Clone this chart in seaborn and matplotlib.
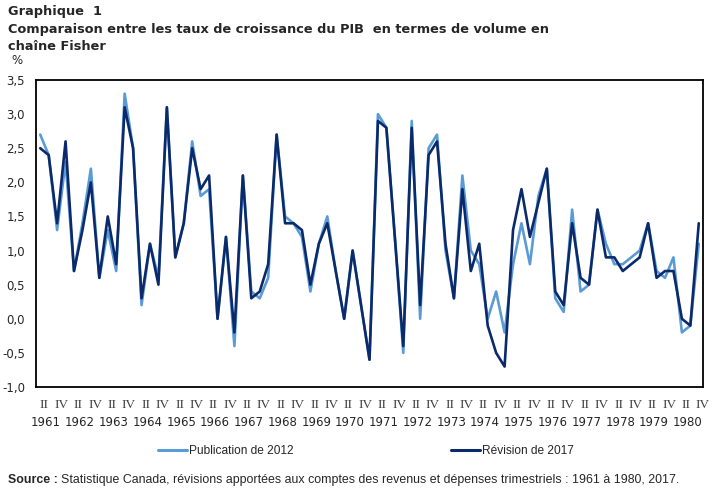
import numpy as np
import pandas as pd
import matplotlib
matplotlib.use("Agg")
from matplotlib import pyplot as plt
import seaborn as sns

# quarterly growth, 1961 Q2 to 1980 Q4 (%)
years = list(range(1961, 1981))
quarters = [(y, q) for y in years for q in ["I", "II", "III", "IV"]][1:]

pub_2012 = [2.7, 2.4, 1.3, 2.3,
            0.7, 1.4, 2.2, 0.6,
            1.3, 0.7, 3.3, 2.5,
            0.2, 1.1, 0.6, 3.1,
            0.9, 1.4, 2.6, 1.8,
            1.9, 0.0, 1.2, -0.4,
            2.1, 0.4, 0.3, 0.6,
            2.7, 1.5, 1.4, 1.2,
            0.4, 1.1, 1.5, 0.7,
            0.0, 1.0, 0.2, -0.6,
            3.0, 2.8, 1.2, -0.5,
            2.9, 0.0, 2.5, 2.7,
            1.0, 0.3, 2.1, 1.0,
            0.8, 0.0, 0.4, -0.2,
            0.8, 1.4, 0.8, 1.8,
            2.2, 0.3, 0.1, 1.6,
            0.4, 0.5, 1.6, 1.1,
            0.8, 0.8, 0.9, 1.0,
            1.4, 0.7, 0.6, 0.9,
            -0.2, -0.1, 1.1]

rev_2017 = [2.5, 2.4, 1.4, 2.6,
            0.7, 1.3, 2.0, 0.6,
            1.5, 0.8, 3.1, 2.5,
            0.3, 1.1, 0.5, 3.1,
            0.9, 1.4, 2.5, 1.9,
            2.1, 0.0, 1.2, -0.2,
            2.1, 0.3, 0.4, 0.8,
            2.7, 1.4, 1.4, 1.3,
            0.5, 1.1, 1.4, 0.7,
            0.0, 1.0, 0.2, -0.6,
            2.9, 2.8, 1.2, -0.4,
            2.8, 0.2, 2.4, 2.6,
            1.1, 0.3, 1.9, 0.7,
            1.1, -0.1, -0.5, -0.7,
            1.3, 1.9, 1.2, 1.7,
            2.2, 0.4, 0.2, 1.4,
            0.6, 0.5, 1.6, 0.9,
            0.9, 0.7, 0.8, 0.9,
            1.4, 0.6, 0.7, 0.7,
            0.0, -0.1, 1.4]

series_names = ["Publication de 2012", "Révision de 2017"]
colors = ["#5B9BD5", "#0B2A6B"]

n = len(quarters)
df = pd.DataFrame({
    "idx": list(range(n)) * 2,
    "value": pub_2012 + rev_2017,
    "serie": [series_names[0]] * n + [series_names[1]] * n,
})

sns.set_style("white")
plt.rcParams["font.family"] = ["DejaVu Sans"]

fig = plt.figure(figsize=(7.19, 4.92), dpi=100)
ax = fig.add_axes([36 / 719, 1 - 387 / 492, (703 - 36) / 719, (387 - 80) / 492])

sns.lineplot(data=df, x="idx", y="value", hue="serie", palette=colors,
             linewidth=1.9, ax=ax, legend=False)

ax.set_xlim(-0.5, n - 0.5)
ax.set_ylim(-1.0, 3.5)
yt = np.arange(-1.0, 3.51, 0.5)
ax.set_yticks(yt)
ax.set_yticklabels([f"{v:.1f}".replace(".", ",") for v in yt], fontsize=8.5)
ax.tick_params(axis="y", direction="in", length=3, width=1, color="black", pad=8)

# roman quarter labels every second quarter
xt = [i + 0.5 for i in range(0, n, 2)]
ax.set_xticks(xt)
ax.set_xticklabels([quarters[i][1] for i in range(0, n, 2)],
                   family="Liberation Serif", fontsize=9.5, color="#404040")
ax.tick_params(axis="x", length=0, pad=9)

# years under the quarter labels
for k, y in enumerate(years):
    ax.text(4 * k + 0.7, -0.117, str(y), transform=ax.get_xaxis_transform(),
            ha="center", va="center", fontsize=8.5)

for s in ax.spines.values():
    s.set_color("black")
    s.set_linewidth(1.3)
ax.set_xlabel("")
ax.set_ylabel("")

fig.text(8 / 719, 1 - 12 / 492, "Graphique  1", fontsize=9.3, fontweight="bold", va="center")
fig.text(8 / 719, 1 - 30 / 492,
         "Comparaison entre les taux de croissance du PIB  en termes de volume en",
         fontsize=9.3, fontweight="bold", va="center")
fig.text(8 / 719, 1 - 46 / 492, "chaîne Fisher", fontsize=9.3, fontweight="bold", va="center")
fig.text(11 / 719, 1 - 61 / 492, "%", fontsize=8.5, va="center")

handles = [plt.Line2D([], [], color=c, linewidth=2.2) for c in colors]
leg = fig.legend(handles, series_names, loc="center", bbox_to_anchor=(366 / 719, 1 - 451 / 492),
                 ncol=2, frameon=False, handlelength=2.4, handletextpad=0.15,
                 columnspacing=13.2, prop={"family": "Liberation Sans", "size": 8.6})

fig.text(8 / 719, 1 - 480 / 492, "Source :", fontsize=8.9, fontweight="bold", va="center",
         family="Liberation Sans")
fig.text(61 / 719, 1 - 480 / 492,
         "Statistique Canada, révisions apportées aux comptes des revenus et dépenses trimestriels : 1961 à 1980, 2017.",
         fontsize=8.9, va="center", family="Liberation Sans")

plt.savefig("out.png", dpi=100)
